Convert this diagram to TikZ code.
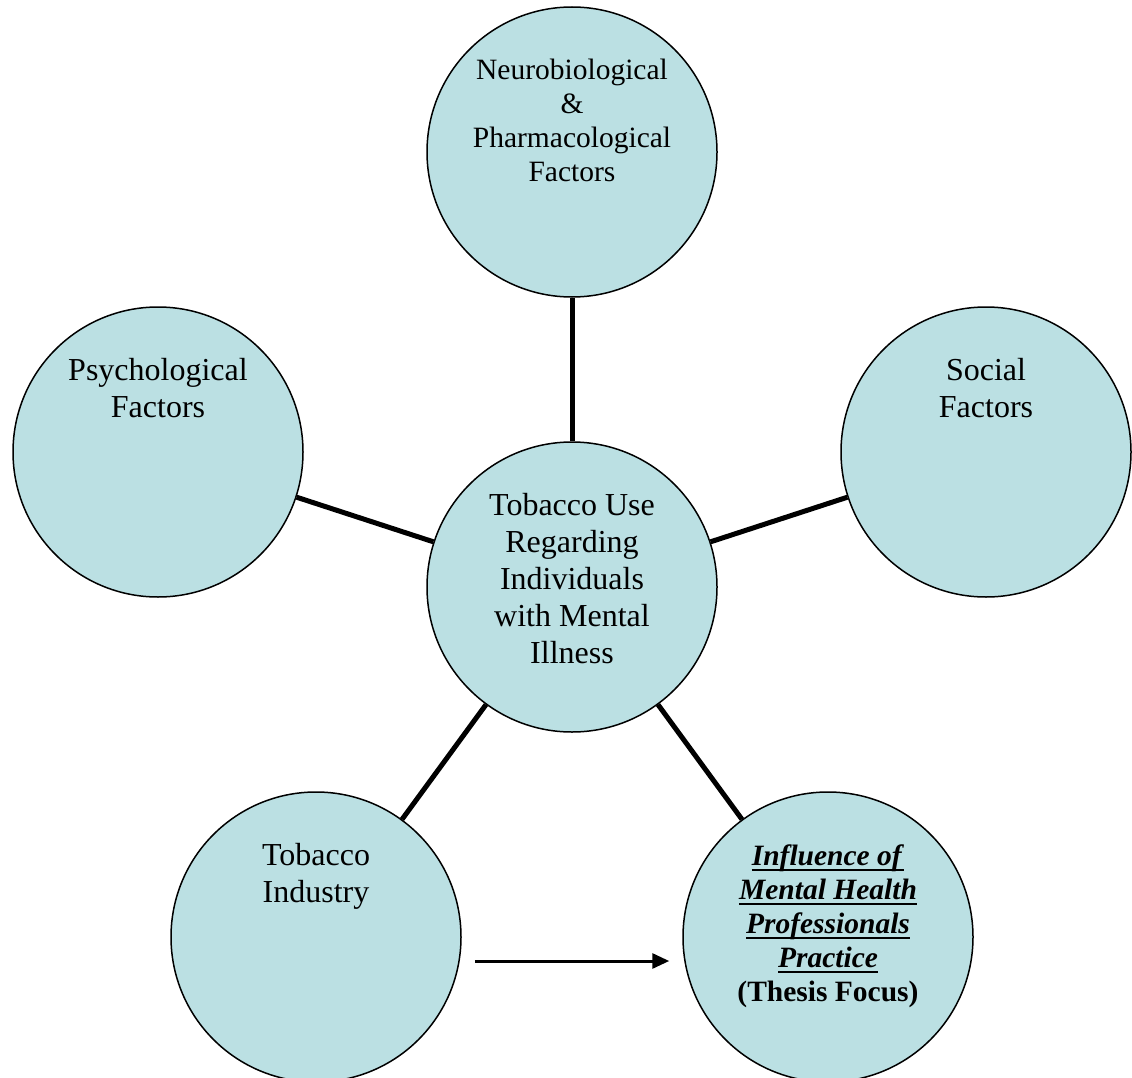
\documentclass[tikz,border=0pt]{standalone}
\usepackage{fontspec}
\setmainfont{Liberation Serif}
\usetikzlibrary{arrows.meta, positioning}
\definecolor{mPale}{HTML}{BBE0E3}
\definecolor{mInk}{HTML}{000000}
\newcommand{\focusline}[1]{\setbox0\hbox{\textbf{\textit{#1}}}\rlap{\raisebox{-6pt}{\rule{\wd0}{2pt}}}\box0}

\begin{document}
\begin{tikzpicture}[x=1pt, y=-1pt,
    factor/.style={circle, draw=mInk, line width=1.5pt, fill=mPale, minimum size=290pt, inner sep=0pt},
    bigtext/.style={align=center, inner sep=0pt, font=\fontsize{32}{37}\selectfont},
    smalltext/.style={align=center, inner sep=0pt, font=\fontsize{29.5}{34}\selectfont},
    link/.style={mInk, line width=5pt},
    flow/.style={mInk, line width=3pt, -{Triangle[length=17pt, width=15pt]}}]
  \useasboundingbox (0,0) rectangle (1132,1078);
  % circles
  \node[factor] (hub) at (572,587) {};
  \node[factor] (neuro) at (572,152) {};
  \node[factor] (psych) at (158,452) {};
  \node[factor] (social) at (986,452) {};
  \node[factor] (industry) at (316,937) {};
  \node[factor] (thesis) at (828,937) {};
  % spokes
  \draw[link] (hub) -- (neuro);
  \draw[link] (hub) -- (psych);
  \draw[link] (hub) -- (social);
  \draw[link] (hub) -- (industry);
  \draw[link] (hub) -- (thesis);
  \draw[flow] ([shift={(13,24)}]industry.east) -- ([shift={(-13,24)}]thesis.west);
  % texts
  \node[bigtext, below=52pt of hub.north] (hubtext) {Tobacco Use\\Regarding\\Individuals\\with Mental\\Illness};
  \node[smalltext, below=53pt of neuro.north] (neurotext) {Neurobiological\\\&\\Pharmacological\\Factors};
  \node[bigtext, below=52pt of psych.north] (psychtext) {Psychological\\Factors};
  \node[bigtext, below=52pt of social.north] (socialtext) {Social\\Factors};
  \node[bigtext, below=52pt of industry.north] (industrytext) {Tobacco\\Industry};
  \node[smalltext, below=53pt of thesis.north] (thesistext) {\focusline{Influence of}\\\focusline{Mental Health}\\\focusline{Professionals}\\\focusline{Practice}\\\textbf{(Thesis Focus)}};
\end{tikzpicture}
\end{document}
